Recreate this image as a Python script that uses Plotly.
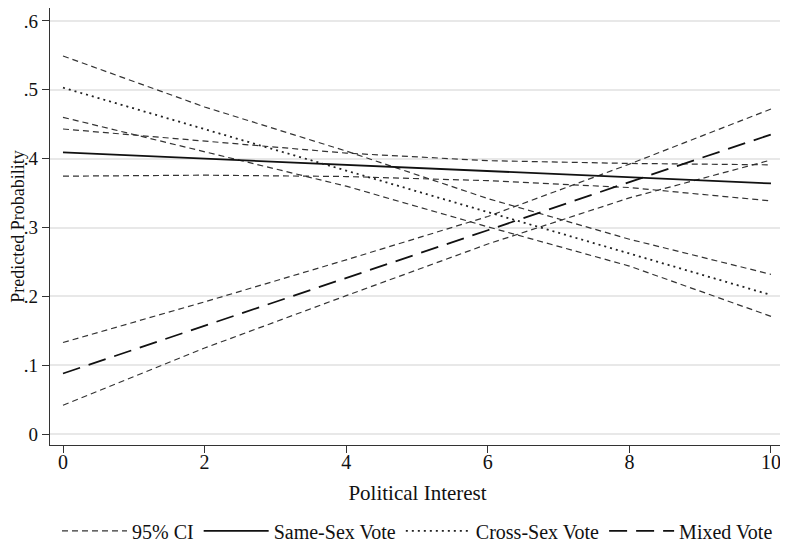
import plotly.graph_objects as go

# Data
political_interest = [0, 2, 4, 6, 8, 10]

same_sex = [0.409, 0.400, 0.391, 0.382, 0.373, 0.364]
same_sex_hi = [0.443, 0.425, 0.408, 0.397, 0.393, 0.391]
same_sex_lo = [0.3745, 0.376, 0.374, 0.368, 0.358, 0.3386]

cross_sex = [0.503, 0.443, 0.383, 0.322, 0.262, 0.202]
cross_sex_hi = [0.549, 0.475, 0.411, 0.342, 0.283, 0.232]
cross_sex_lo = [0.460, 0.410, 0.360, 0.301, 0.244, 0.171]

mixed = [0.088, 0.157, 0.227, 0.296, 0.366, 0.435]
mixed_hi = [0.133, 0.192, 0.253, 0.316, 0.392, 0.472]
mixed_lo = [0.042, 0.125, 0.201, 0.276, 0.343, 0.398]

y_tickvals = [0, 0.1, 0.2, 0.3, 0.4, 0.5, 0.6]
y_ticktext = ["0", ".1", ".2", ".3", ".4", ".5", ".6"]
x_tickvals = [0, 2, 4, 6, 8, 10]

FONT = "Liberation Serif"
CI_STYLE = dict(color="#333333", width=1.2, dash="6px,4px")

fig = go.Figure()

ci_sets = [same_sex_hi, same_sex_lo, cross_sex_hi, cross_sex_lo, mixed_hi, mixed_lo]
for i, ys in enumerate(ci_sets):
    fig.add_trace(go.Scatter(
        x=political_interest, y=ys, mode="lines", line=CI_STYLE,
        name="95% CI", legendgroup="ci", showlegend=(i == 0),
    ))

fig.add_trace(go.Scatter(x=political_interest, y=same_sex, mode="lines",
                         line=dict(color="#111111", width=1.8),
                         name="Same-Sex Vote"))
fig.add_trace(go.Scatter(x=political_interest, y=cross_sex, mode="lines",
                         line=dict(color="#222222", width=1.8, dash="2px,4px"),
                         name="Cross-Sex Vote"))
fig.add_trace(go.Scatter(x=political_interest, y=mixed, mode="lines",
                         line=dict(color="#111111", width=1.8, dash="18px,9px"),
                         name="Mixed Vote"))

# The page body adds an 8px offset, so the figure is sized 780x543
fig.update_layout(
    width=780, height=543,
    margin=dict(l=42, r=3, t=0, b=100),
    paper_bgcolor="white", plot_bgcolor="white",
    font=dict(family=FONT, size=20, color="#111111"),
    legend=dict(orientation="h", x=0.5, xanchor="center", y=-0.152, yanchor="top",
                itemwidth=65, font=dict(family=FONT, size=20),
                tracegroupgap=0),
    xaxis=dict(
        range=[-0.1836, 10.198], tickvals=x_tickvals, automargin=False,
        showgrid=False, zeroline=False,
        showline=True, linecolor="#333333", linewidth=1.2,
        ticks="outside", ticklen=7, tickcolor="#333333", tickwidth=1.2,
        ticklabelstandoff=-8,
        title=dict(text="Political Interest", font=dict(family=FONT, size=21), standoff=13),
        tickfont=dict(family=FONT, size=20),
    ),
    yaxis=dict(
        range=[-0.0158, 0.6187], tickvals=y_tickvals, ticktext=y_ticktext,
        automargin=False,
        showgrid=True, gridcolor="#e8e8e8", gridwidth=1.5, zeroline=False,
        showline=True, linecolor="#333333", linewidth=1.2,
        ticks="outside", ticklen=7, tickcolor="#333333", tickwidth=1.2,
        title=dict(text="Predicted Probability", font=dict(family=FONT, size=18), standoff=6),
        tickfont=dict(family=FONT, size=19),
    ),
)

fig.write_html("out.html")
